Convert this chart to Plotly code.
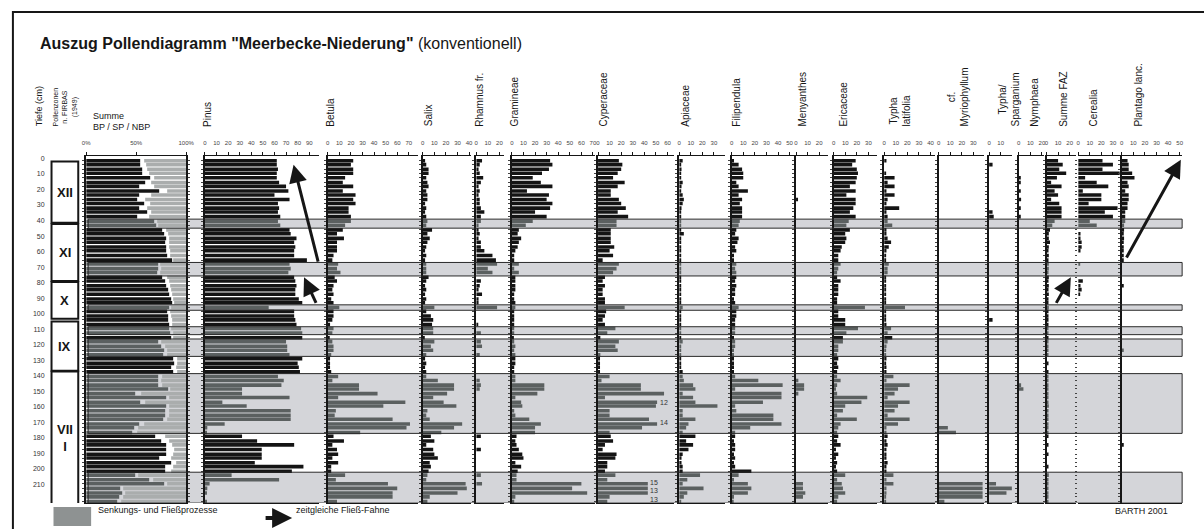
import plotly.graph_objects as go

W, H = 1204, 529

# Probentiefen (cm)
DEPTH = [1.5, 4, 7, 9.5, 12.5, 15.5, 18, 21, 23.5, 26.5,
         29, 32, 34.5, 37.5, 40.5, 43, 46, 48.5, 51.5, 54,
         57, 59.5, 62.5, 65.5, 68, 71, 73.5, 76.5, 79, 82,
         84.5, 87.5, 90.5, 93, 96, 98.5, 101.5, 104, 107, 109.5,
         112.5, 115.5, 118, 121, 123.5, 126.5, 129, 132, 134.5, 137.5,
         140.5, 143, 146, 148.5, 151.5, 154, 157, 159.5, 162.5, 165.5,
         168, 171, 173.5, 176.5, 179, 182, 184.5, 187.5, 190.5, 193,
         196, 198.5, 201.5, 204, 207, 209.5, 212.5, 215.5, 218, 221]

DEPTH_TICKS = [0, 10, 20, 30, 40, 50, 60, 70, 80, 90, 100,
               110, 120, 130, 140, 150, 160, 170, 180, 190, 200, 210]

# Summendiagramm: Baumpollen / Strauchpollen (Rest = NBP)
BP = [54, 54, 56, 56, 64, 59, 53, 73, 53, 51,
      58, 53, 61, 51, 68, 70, 76, 78, 80, 79,
      80, 80, 81, 86, 72, 72, 71, 76, 79, 80,
      82, 83, 85, 86, 83, 81, 82, 82, 83, 83,
      84, 85, 72, 75, 78, 77, 87, 88, 85, 87,
      72, 72, 72, 82, 49, 80, 54, 80, 79, 79,
      77, 53, 48, 46, 69, 75, 80, 80, 80, 73,
      85, 79, 79, 49, 63, 78, 34, 36, 33, 31]
SP = [4, 6, 5, 7, 4, 6, 15, 8, 12, 8,
      6, 8, 4, 12, 3, 2, 4, 4, 3, 4,
      3, 4, 3, 1, 2, 3, 3, 5, 4, 4,
      3, 3, 2, 2, 2, 3, 3, 4, 3, 2,
      3, 2, 3, 4, 3, 4, 4, 3, 5, 4,
      4, 3, 4, 2, 6, 3, 5, 3, 4, 4,
      4, 5, 4, 5, 10, 8, 6, 8, 7, 12,
      5, 8, 6, 3, 4, 3, 3, 3, 4, 4]

PINUS = [62, 62, 63, 62, 62, 64, 70, 72, 60, 73,
         63, 64, 63, 65, 63, 65, 73, 74, 79, 77,
         78, 77, 77, 88, 73, 74, 72, 77, 78, 79,
         78, 78, 81, 84, 55, 77, 77, 78, 79, 83,
         84, 84, 70, 71, 71, 73, 84, 80, 81, 82,
         63, 68, 66, 32, 32, 73, 15, 36, 74, 74,
         74, 17, 2, 1, 32, 45, 77, 49, 49, 49,
         43, 85, 75, 23, 64, 4, 2, 1, 0, 1]
BETULA = [22, 20, 22, 22, 15, 13, 22, 13, 24, 22,
          24, 18, 18, 20, 20, 15, 13, 8, 14, 8,
          8, 8, 5, 4, 9, 8, 11, 6, 8, 5,
          4, 5, 3, 5, 10, 5, 5, 4, 2, 5,
          4, 1, 4, 5, 5, 3, 2, 2, 2, 3,
          9, 4, 27, 27, 43, 9, 67, 48, 7, 6,
          56, 71, 68, 28, 5, 14, 4, 8, 9, 4,
          9, 3, 3, 15, 7, 52, 60, 56, 56, 8]
SALIX = [2, 3, 5, 5, 3, 4, 5, 3, 4, 4,
         2, 3, 2, 3, 4, 3, 8, 4, 6, 4,
         3, 2, 3, 2, 3, 3, 3, 5, 3, 2,
         3, 2, 3, 2, 10, 3, 7, 9, 8, 9,
         9, 1, 10, 7, 9, 3, 2, 3, 2, 3,
         3, 13, 27, 27, 21, 9, 18, 29, 4, 3,
         6, 34, 27, 16, 7, 10, 3, 9, 10, 13,
         6, 7, 5, 4, 3, 37, 38, 30, 6, 4]
RHAMNUS = [5, 3, 2, 3, 6, 4, 2, 3, 2, 3,
           3, 4, 7, 4, 4, 2, 2, 3, 2, 4,
           4, 7, 14, 17, 18, 10, 14, 0, 4, 3,
           2, 5, 2, 2, 18, 0, 0, 0, 1, 0,
           4, 0, 4, 5, 0, 3, 0, 0, 0, 0,
           0, 3, 4, 3, 0, 0, 0, 0, 0, 0,
           0, 0, 0, 0, 4, 0, 0, 4, 0, 0,
           0, 0, 0, 4, 0, 5, 0, 0, 0, 0]
GRAMINEAE = [33, 35, 32, 26, 18, 25, 35, 13, 32, 30,
             35, 33, 20, 30, 18, 12, 6, 5, 8, 6,
             5, 3, 2, 2, 6, 2, 6, 3, 3, 3,
             3, 2, 2, 3, 3, 2, 2, 2, 2, 2,
             2, 1, 2, 3, 2, 3, 3, 3, 2, 2,
             3, 3, 28, 28, 22, 3, 8, 9, 2, 3,
             15, 25, 20, 20, 4, 3, 4, 6, 9, 10,
             3, 8, 5, 4, 4, 60, 52, 65, 3, 2]
CYPERACEAE = [18, 21, 20, 17, 13, 23, 17, 11, 11, 18,
              20, 24, 17, 26, 16, 16, 11, 11, 11, 11,
              14, 10, 13, 4, 18, 16, 13, 6, 4, 6,
              4, 4, 6, 6, 23, 7, 6, 4, 6, 15,
              8, 2, 18, 15, 17, 2, 1, 1, 1, 1,
              10, 3, 37, 37, 57, 6, 51, 50, 10, 10,
              44, 51, 38, 10, 11, 13, 6, 4, 16, 15,
              8, 8, 6, 15, 8, 43, 43, 43, 10, 8]
APIACEAE = [3, 1, 2, 1, 1, 3, 2, 1, 3, 4,
            3, 2, 1, 1, 1, 1, 1, 4, 1, 1,
            1, 1, 1, 1, 1, 1, 1, 1, 1, 1,
            1, 1, 1, 1, 3, 1, 1, 1, 1, 1,
            1, 1, 3, 1, 1, 1, 1, 1, 1, 3,
            3, 4, 12, 14, 3, 12, 14, 33, 3, 3,
            14, 8, 6, 3, 14, 6, 12, 8, 3, 2,
            2, 3, 3, 18, 7, 3, 21, 7, 4, 1]
FILIPENDULA = [2, 6, 9, 10, 10, 4, 6, 14, 6, 9,
               7, 9, 9, 9, 7, 6, 4, 3, 6, 5,
               3, 4, 2, 2, 4, 3, 4, 4, 3, 4,
               3, 3, 2, 3, 6, 4, 4, 3, 3, 3,
               3, 2, 3, 3, 2, 2, 2, 2, 2, 2,
               3, 23, 44, 3, 43, 43, 27, 3, 4, 36,
               36, 43, 16, 3, 3, 2, 3, 3, 2, 3,
               2, 3, 17, 6, 2, 14, 17, 14, 2, 1]
MENYANTHES = [0, 0, 0, 0, 0, 0, 0, 0, 0, 1,
              0, 0, 0, 0, 0, 0, 0, 0, 0, 0,
              0, 0, 0, 0, 0, 0, 0, 0, 0, 0,
              0, 0, 0, 0, 0, 0, 0, 0, 0, 0,
              0, 0, 0, 0, 0, 0, 0, 0, 0, 0,
              0, 2, 7, 7, 2, 0, 0, 0, 0, 0,
              0, 0, 0, 0, 0, 0, 0, 0, 0, 0,
              0, 0, 0, 0, 0, 6, 6, 8, 6, 0]
ERICACEAE = [19, 16, 20, 21, 20, 19, 14, 19, 11, 19,
             19, 17, 14, 19, 13, 11, 14, 10, 11, 10,
             7, 6, 4, 4, 6, 4, 3, 3, 6, 4,
             4, 4, 3, 3, 27, 4, 4, 10, 10, 21,
             11, 8, 8, 4, 4, 3, 4, 3, 4, 3,
             3, 6, 3, 2, 3, 29, 24, 10, 8, 3,
             20, 6, 4, 3, 4, 3, 6, 2, 4, 2,
             3, 2, 3, 10, 3, 7, 8, 10, 4, 3]
TYPHA_LAT = [2, 0, 0, 1, 9, 3, 9, 2, 9, 3,
             2, 13, 2, 3, 3, 7, 2, 2, 3, 6,
             4, 2, 1, 1, 4, 3, 3, 1, 1, 1,
             1, 1, 1, 1, 18, 1, 1, 1, 2, 6,
             3, 7, 3, 2, 1, 1, 2, 1, 2, 2,
             8, 2, 22, 12, 9, 3, 22, 12, 9, 3,
             22, 12, 2, 2, 3, 2, 3, 2, 2, 2,
             3, 2, 2, 8, 2, 8, 2, 2, 1, 1]
MYRIOPHYLLUM = [0, 0, 0, 0, 0, 0, 0, 0, 0, 0,
                0, 0, 0, 0, 0, 0, 0, 0, 0, 0,
                0, 0, 0, 0, 0, 0, 0, 0, 0, 0,
                0, 0, 0, 0, 0, 0, 0, 0, 0, 0,
                0, 0, 0, 0, 0, 0, 0, 0, 0, 0,
                0, 0, 0, 0, 0, 0, 0, 0, 0, 0,
                0, 0, 8, 15, 0, 0, 0, 0, 0, 0,
                0, 0, 0, 0, 0, 38, 38, 38, 38, 5]
SPARGANIUM = [0, 3, 0, 0, 0, 0, 0, 0, 0, 0,
              0, 0, 3, 4, 0, 0, 0, 0, 0, 0,
              0, 0, 0, 0, 0, 0, 0, 0, 0, 0,
              0, 0, 0, 0, 0, 0, 0, 3, 0, 0,
              0, 0, 0, 0, 0, 0, 0, 0, 0, 0,
              0, 0, 0, 0, 0, 0, 0, 0, 0, 0,
              0, 0, 0, 0, 0, 0, 0, 0, 0, 0,
              0, 0, 0, 0, 0, 6, 20, 15, 0, 0]
NYMPHAEA = [0, 0, 0, 0, 1, 1, 0, 1, 0, 2,
            0, 1, 0, 1, 0, 0, 0, 0, 0, 0,
            0, 0, 0, 0, 0, 0, 0, 0, 0, 0,
            0, 0, 0, 0, 0, 0, 0, 0, 0, 0,
            0, 0, 0, 0, 0, 0, 0, 0, 0, 0,
            0, 0, 2, 4, 0, 0, 0, 0, 0, 0,
            0, 0, 0, 0, 0, 0, 0, 0, 0, 0,
            0, 0, 0, 0, 0, 0, 0, 0, 0, 0]
FAZ = [10, 14, 11, 17, 9, 4, 13, 7, 10, 4,
       11, 13, 13, 13, 7, 5, 3, 2, 2, 3,
       2, 1, 2, 1, 2, 2, 1, 2, 1, 2,
       1, 2, 1, 1, 2, 1, 1, 1, 1, 1,
       1, 1, 1, 1, 1, 1, 0, 1, 0, 1,
       1, 1, 1, 1, 1, 1, 1, 2, 1, 1,
       1, 1, 1, 1, 1, 0, 1, 0, 1, 0,
       0, 1, 0, 2, 1, 1, 1, 1, 1, 1]
CEREALIA = [21, 30, 21, 36, 6, 16, 26, 4, 20, 20,
            9, 34, 23, 30, 10, 16, 0, 2, 2, 3,
            3, 2, 0, 0, 1, 0, 0, 0, 4, 2,
            3, 1, 0, 0, 0, 0, 0, 0, 0, 0,
            0, 0, 0, 0, 0, 0, 0, 0, 0, 0,
            0, 0, 0, 0, 0, 0, 0, 0, 0, 0,
            0, 0, 0, 0, 0, 0, 0, 0, 0, 0,
            0, 0, 0, 0, 0, 0, 0, 0, 0, 0]
PLANTAGO = [5, 6, 6, 9, 11, 5, 6, 3, 6, 6,
            5, 5, 3, 3, 3, 2, 2, 1, 2, 1,
            1, 1, 1, 1, 0, 0, 0, 0, 0, 1,
            0, 0, 0, 0, 0, 0, 0, 0, 0, 0,
            0, 0, 0, 0, 1, 0, 0, 0, 0, 0,
            0, 0, 0, 0, 0, 0, 0, 0, 0, 0,
            0, 0, 0, 0, 0, 0, 1, 0, 0, 0,
            0, 0, 0, 0, 0, 0, 0, 0, 0, 0]

# Fließ-/Umlagerungshorizonte (cm) und Pollenzonen
BANDS = [(39.1, 44.9), (67.0, 75.7), (94.3, 97.8), (108.4, 113.5),
         (116.3, 127.5), (138.6, 177.1), (202.1, 222.0)]
ZONES = [("XII", 1.9, 41.5), ("XI", 42.2, 78.9), ("X", 79.6, 103.3),
         ("IX", 105.0, 136.7), ("VII<br>I", 137.3, 223.0)]

TAXA = [("Pinus", PINUS), ("Betula", BETULA), ("Salix", SALIX),
        ("Rhamnus fr.", RHAMNUS), ("Gramineae", GRAMINEAE),
        ("Cyperaceae", CYPERACEAE), ("Apiaceae", APIACEAE),
        ("Filipendula", FILIPENDULA), ("Menyanthes", MENYANTHES),
        ("Ericaceae", ERICACEAE), ("Typha<br>latifolia", TYPHA_LAT),
        ("cf.<br>Myriophyllum", MYRIOPHYLLUM), ("Typha/<br>Sparganium", SPARGANIUM),
        ("Nymphaea", NYMPHAEA), ("Summe FAZ", FAZ), ("Cerealia", CEREALIA),
        ("Plantago lanc.", PLANTAGO)]

for nm, arr in [("BP", BP), ("SP", SP)] + TAXA:
    if len(arr) != len(DEPTH):
        raise ValueError(f"{nm}: {len(arr)}")

# pixel layout of the columns (left, right, label x)
COL_PX = {
    "Summe": (83, 184),
    "Pinus": (203, 318, 205), "Betula": (327, 418, 329), "Salix": (423, 472, 429),
    "Rhamnus fr.": (477, 505, 480), "Gramineae": (513, 597, 516),
    "Cyperaceae": (600, 677, 606), "Apiaceae": (682, 728, 688),
    "Filipendula": (735, 798, 739), "Menyanthes": (800, 832, 807),
    "Ericaceae": (838, 882, 847), "Typha<br>latifolia": (889, 940, 905),
    "cf.<br>Myriophyllum": (944, 990, 964), "Typha/<br>Sparganium": (995, 1018, 1015),
    "Nymphaea": (1025, 1050, 1040), "Summe FAZ": (1053, 1083, 1070),
    "Cerealia": (1085, 1127, 1100), "Plantago lanc.": (1129, 1190, 1145),
}

PX_PER_PCT = 1.17
Y_DOM = [1 - 503 / H, 1 - 155 / H]
Y_RANGE = [222.0, -1.3]
INK = "#161616"
BLACK = "#141414"
DARK = "#5b6060"
LIGHT = "#aaadad"
BAND_BG = "#d4d5d9"
FONT = "Liberation Sans, Arial, sans-serif"


def px(x):
    return x / W


def py(y):
    return 1 - y / H


def in_band(d):
    return any(a <= d <= b for a, b in BANDS)


bar_colors = [DARK if in_band(d) else BLACK for d in DEPTH]

fig = go.Figure()
axes = {}

# depth labels
axes["xaxis"] = dict(domain=[px(42), px(46)], range=[0, 1], visible=False)
axes["yaxis"] = dict(domain=Y_DOM, range=Y_RANGE, anchor="x", tickvals=DEPTH_TICKS,
                     ticktext=[str(t) for t in DEPTH_TICKS], ticks="", showline=False,
                     showgrid=False, zeroline=False, tickfont=dict(size=7, color="#333"))
fig.add_trace(go.Scatter(x=[0.5] * len(DEPTH), y=DEPTH, mode="markers",
                         marker=dict(size=1, opacity=0), hoverinfo="skip",
                         xaxis="x", yaxis="y"))


def hbar(vals, colors, base=None):
    return go.Bar(y=DEPTH, x=vals, base=base, orientation="h", width=2.3,
                  marker=dict(color=colors, line=dict(width=0)), hoverinfo="skip")


def add_column(n, x0, x1, traces, rng, xtick, yextra=None):
    xa, ya = f"x{n}", f"y{n}"
    for t in traces:
        t.update(xaxis=xa, yaxis=ya)
        fig.add_trace(t)
    axes[f"xaxis{n}"] = dict(domain=[px(x0), px(x1)], anchor=ya, side="top", range=rng,
                             showline=True, mirror=True, linecolor=INK, linewidth=1.3,
                             ticks="outside", ticklen=3, tickwidth=1, tickcolor=INK,
                             ticklabelstandoff=5, tickfont=dict(size=6, color="#444"),
                             showgrid=False, zeroline=False, **xtick)
    yax = dict(domain=Y_DOM, range=Y_RANGE, anchor=xa, showline=True, linecolor=INK,
               linewidth=2, ticks="outside", tickvals=DEPTH, ticklen=2, tickwidth=1,
               tickcolor="#444", showticklabels=False, showgrid=False, zeroline=False)
    if yextra:
        yax.update(yextra)
    axes[f"yaxis{n}"] = yax


# Summendiagramm BP / SP / NBP
nbp = [100 - b - s for b, s in zip(BP, SP)]
nbp_base = [b + s for b, s in zip(BP, SP)]
add_column(2, *COL_PX["Summe"],
           [hbar(BP, bar_colors), hbar(nbp, LIGHT, base=nbp_base)],
           [0, 100], dict(tickvals=[0, 50, 100], ticktext=["0%", "50%", "100%"]),
           yextra=dict(mirror="ticks"))

axis_no = {}
for i, (name, vals) in enumerate(TAXA):
    n = i + 3
    axis_no[name] = n
    x0, x1, _ = COL_PX[name]
    extra = dict(showline=False) if name == "Cerealia" else None
    add_column(n, x0, x1, [hbar(vals, bar_colors)],
               [0, (x1 - x0) / PX_PER_PCT], dict(dtick=10, tick0=0), yextra=extra)

shapes = []
# frame
shapes.append(dict(type="rect", xref="paper", yref="paper", x0=px(9), x1=1.05,
                   y0=-0.05, y1=py(10), line=dict(color=INK, width=2)))
for a, b in BANDS:
    shapes.append(dict(type="rect", xref="paper", yref="y", x0=px(85), x1=px(1190),
                       y0=a, y1=b, fillcolor=BAND_BG, line=dict(width=0), layer="below"))
    shapes.append(dict(type="rect", xref="paper", yref="y", x0=px(85), x1=px(1190),
                       y0=a, y1=b, fillcolor="rgba(0,0,0,0)",
                       line=dict(color="#2a2a2a", width=1), layer="above"))
for lab, a, b in ZONES:
    shapes.append(dict(type="rect", xref="paper", yref="y", x0=px(48), x1=px(75),
                       y0=a, y1=b, line=dict(color=INK, width=2), layer="above"))
# legend swatch
shapes.append(dict(type="rect", xref="paper", yref="paper", x0=px(50), x1=px(88),
                   y0=py(526), y1=py(507), fillcolor="#8e9292", line=dict(width=0)))

ann = []
ann.append(dict(xref="paper", yref="paper", x=px(34), y=py(42), xanchor="left",
                yanchor="middle", showarrow=False,
                text='<b>Auszug Pollendiagramm "Meerbecke-Niederung"</b> (konventionell)',
                font=dict(size=16, color=INK)))
for lab, a, b in ZONES:
    ann.append(dict(xref="paper", yref="y", x=px(61.5), y=(a + b) / 2, showarrow=False,
                    xanchor="center", yanchor="middle",
                    text=f"<b>{lab}</b>", font=dict(size=13, color=INK)))

# column headers
headers = [("Tiefe (cm)", 35, 9), ("Pollenzonen<br>n. FIRBAS<br>(1949)", 62, 7)]
headers += [(name, COL_PX[name][2], 10) for name, _ in TAXA]
for txt, xc, fs in headers:
    ann.append(dict(xref="paper", yref="paper", x=px(xc), y=py(127), xanchor="center",
                    yanchor="bottom", textangle=-90, showarrow=False, text=txt,
                    font=dict(size=fs, color=INK)))
ann.append(dict(xref="paper", yref="paper", x=px(88), y=py(107), xanchor="left",
                showarrow=False, text="Summe", font=dict(size=9, color=INK)))
ann.append(dict(xref="paper", yref="paper", x=px(88), y=py(118), xanchor="left",
                showarrow=False, text="BP / SP / NBP", font=dict(size=9, color=INK)))

# values beyond scale
for xx, dd, t in [(667, 157, "12"), (667, 170, "14"), (657, 208.5, "15"),
                  (657, 213.8, "13"), (657, 219.4, "13")]:
    ann.append(dict(xref="paper", yref="y", x=px(xx), y=dd, showarrow=False, text=t,
                    xanchor="center", font=dict(size=7, color="#333")))


# arrows
def arrow(n, tail, head, w=3):
    ann.append(dict(xref=f"x{n}", yref="y", axref=f"x{n}", ayref="y",
                    x=head[0], y=head[1], ax=tail[0], ay=tail[1], text="",
                    showarrow=True, arrowhead=2, arrowsize=1.2, arrowwidth=w,
                    arrowcolor=INK))


arrow(3, (98.0, 67.4), (76.5, 4.0))
arrow(3, (96.5, 94.0), (85.5, 76.5))
arrow(axis_no["Summe FAZ"], (7.7, 94.0), (21.0, 76.5))
arrow(axis_no["Plantago lanc."], (3.4, 64.8), (51.0, 0.8))

# legend
ann.append(dict(xref="paper", yref="paper", x=px(93), y=py(517), xanchor="left",
                showarrow=False, text="Senkungs- und Fließprozesse",
                font=dict(size=9, color=INK)))
ann.append(dict(xref="paper", yref="paper", x=px(291), y=py(518), ax=-28, ay=0,
                text="", showarrow=True, arrowhead=2, arrowsize=1.0, arrowwidth=4,
                arrowcolor=INK))
ann.append(dict(xref="paper", yref="paper", x=px(293), y=py(517), xanchor="left",
                showarrow=False, text="zeitgleiche Fließ-Fahne",
                font=dict(size=9, color=INK)))
ann.append(dict(xref="paper", yref="paper", x=px(1178), y=py(518), xanchor="right",
                showarrow=False, text="BARTH 2001", font=dict(size=9, color=INK)))

fig.update_layout(
    width=W, height=H, autosize=False,
    margin=dict(l=0, r=0, t=0, b=0),
    paper_bgcolor="white", plot_bgcolor="rgba(0,0,0,0)",
    barmode="overlay", showlegend=False,
    font=dict(family=FONT, color=INK),
    shapes=shapes, annotations=ann,
    **axes,
)

fig.write_html("out.html", config={"displayModeBar": False},
               post_script="document.body.style.margin='0';")
